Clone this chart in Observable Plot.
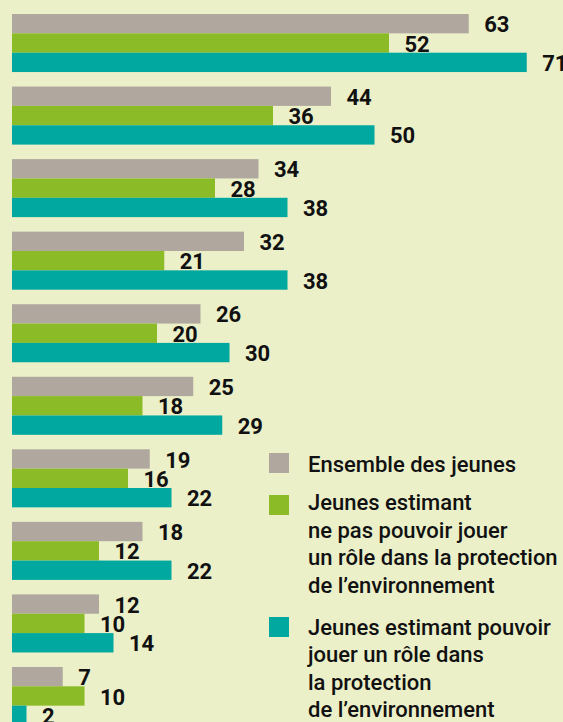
<!DOCTYPE html>
<html>
<head>
<meta charset="utf-8">
<script src="https://cdn.jsdelivr.net/npm/d3@7"></script>
<script src="https://cdn.jsdelivr.net/npm/@observablehq/plot@0.6"></script>
<style>
  html, body { margin: 0; padding: 0; background: #ebf0c9; overflow: hidden; }
  #wrap { position: relative; width: 563px; height: 722px; }
  .leg { position: absolute; left: 269px; font-family: Roboto, sans-serif; font-weight: 500; font-size: 22px; line-height: 27.5px; color: #111; }
  .sw { position: absolute; left: 0; width: 20px; height: 20px; }
</style>
</head>
<body>
<div id="wrap"></div>
<script>
const groups = ["G1","G2","G3","G4","G5","G6","G7","G8","G9","G10"];
const seriesNames = [
  "Ensemble des jeunes",
  "Jeunes estimant ne pas pouvoir jouer un rôle dans la protection de l’environnement",
  "Jeunes estimant pouvoir jouer un rôle dans la protection de l’environnement"
];
const ensemble = [63, 44, 34, 32, 26, 25, 19, 18, 12, 7];
const nePasPouvoir = [52, 36, 28, 21, 20, 18, 16, 12, 10, 10];
const pouvoir = [71, 50, 38, 38, 30, 29, 22, 22, 14, 2];
const colors = ["#b0a89e", "#8bbb26", "#00a8a0"];
const legendLines = [
  ["Ensemble des jeunes"],
  ["Jeunes estimant", "ne pas pouvoir jouer", "un rôle dans la protection", "de l’environnement"],
  ["Jeunes estimant pouvoir", "jouer un rôle dans", "la protection", "de l’environnement"]
];

const seriesValues = [ensemble, nePasPouvoir, pouvoir];
const data = [];
seriesValues.forEach((vals, s) => vals.forEach((v, i) => data.push({group: groups[i], series: seriesNames[s], s, value: v})));

const bw = (725 - 14) / (10 - 0.2) * 0.8; // band width
const t = bw / 3;
const marks = [];
const insets = [[0, 2 * t], [t, t], [2 * t, 0]];
const dys = [-t, 0, t];
for (let s = 0; s < 3; s++) {
  const d = data.filter(r => r.s === s);
  marks.push(Plot.barX(d, {x: "value", y: "group", fill: colors[s], insetTop: insets[s][0], insetBottom: insets[s][1]}));
  marks.push(Plot.text(d, {x: "value", y: "group", text: d => String(d.value), dx: 15, dy: dys[s] + 1, textAnchor: "start",
    fill: "#111", fontSize: 22, fontWeight: 700, fontFamily: "Roboto, sans-serif"}));
}

const chart = Plot.plot({
  width: 563,
  height: 722,
  marginLeft: 12,
  marginRight: 0,
  marginTop: 14,
  marginBottom: 0,
  style: {background: "#ebf0c9", overflow: "hidden"},
  x: {domain: [0, 76], range: [12, 563], axis: null},
  y: {type: "band", domain: groups, range: [14, 725], paddingInner: 0.2, paddingOuter: 0, round: false, axis: null},
  marks
});
const wrap = document.getElementById("wrap");
wrap.appendChild(chart);

const legTops = [[453, 450.7], [495, 489.4], [617, 613.7]];
legendLines.forEach((lines, i) => {
  const sq = document.createElement("div");
  sq.className = "sw";
  sq.style.top = legTops[i][0] + "px";
  sq.style.left = "269px";
  sq.style.background = colors[i];
  wrap.appendChild(sq);
  const tx = document.createElement("div");
  tx.className = "leg";
  tx.style.left = "308px";
  tx.style.top = legTops[i][1] + "px";
  tx.innerHTML = lines.map(l => `<div style="white-space:nowrap">${l}</div>`).join("");
  wrap.appendChild(tx);
});
</script>
</body>
</html>
